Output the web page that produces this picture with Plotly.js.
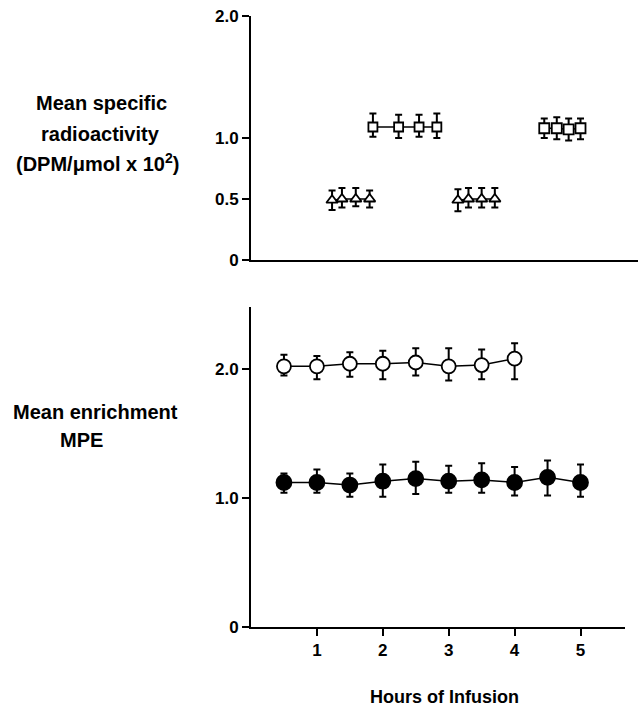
<!DOCTYPE html>
<html>
<head>
<meta charset="utf-8">
<script src="https://cdn.plot.ly/plotly-3.0.1.min.js"></script>
<style>html,body{margin:0;padding:0;background:#fff;}#chart{width:638px;height:707px;}</style>
</head>
<body>
<div id="chart"></div>
<script>
// Top panel: mean specific radioactivity (DPM/umol x 10^2)
const tri1X = [1.23, 1.38, 1.59, 1.80];
const tri1Y = [0.49, 0.50, 0.50, 0.50];
const tri1Up = [0.57, 0.59, 0.59, 0.57];
const tri1Lo = [0.41, 0.43, 0.44, 0.43];

const sq1X = [1.85, 2.24, 2.55, 2.82];
const sq1Y = [1.09, 1.09, 1.09, 1.09];
const sq1Up = [1.20, 1.19, 1.19, 1.20];
const sq1Lo = [1.01, 1.00, 1.01, 1.00];

const tri2X = [3.14, 3.30, 3.50, 3.70];
const tri2Y = [0.49, 0.50, 0.50, 0.50];
const tri2Up = [0.58, 0.59, 0.59, 0.59];
const tri2Lo = [0.40, 0.43, 0.43, 0.43];

const sq2X = [4.45, 4.64, 4.82, 5.00];
const sq2Y = [1.08, 1.08, 1.07, 1.08];
const sq2Up = [1.16, 1.17, 1.16, 1.16];
const sq2Lo = [1.00, 0.99, 0.98, 0.99];

// Bottom panel: mean enrichment MPE
const openX = [0.5, 1, 1.5, 2, 2.5, 3, 3.5, 4];
const openY = [2.02, 2.02, 2.04, 2.04, 2.05, 2.02, 2.03, 2.08];
const openUp = [2.11, 2.10, 2.13, 2.14, 2.16, 2.16, 2.15, 2.20];
const openLo = [1.95, 1.92, 1.94, 1.92, 1.95, 1.91, 1.92, 1.92];

const fillX = [0.5, 1, 1.5, 2, 2.5, 3, 3.5, 4, 4.5, 5];
const fillY = [1.12, 1.12, 1.10, 1.13, 1.15, 1.13, 1.14, 1.12, 1.16, 1.12];
const fillUp = [1.19, 1.22, 1.19, 1.26, 1.28, 1.25, 1.27, 1.24, 1.29, 1.26];
const fillLo = [1.04, 1.04, 1.01, 1.01, 1.03, 1.04, 1.04, 1.02, 1.02, 1.01];

const xTickVals = [1, 2, 3, 4, 5];
const xTickText = ['1', '2', '3', '4', '5'];
const topYTickVals = [0, 0.5, 1.0, 2.0];
const topYTickText = ['0', '0.5', '1.0', '2.0'];
const botYTickVals = [0, 1.0, 2.0];
const botYTickText = ['0', '1.0', '2.0'];

function errs(y, up, lo) {
  return {
    type: 'data', symmetric: false,
    array: up.map((u, i) => +(u - y[i]).toFixed(3)),
    arrayminus: lo.map((l, i) => +(y[i] - l).toFixed(3)),
    color: '#000', thickness: 2, width: 3.5
  };
}

function series(x, y, up, lo, symbol, size, axes, fill) {
  return {
    x: x, y: y, type: 'scatter', mode: 'lines+markers',
    xaxis: axes[0], yaxis: axes[1],
    line: {color: '#000', width: 1.5},
    marker: {symbol: symbol, size: size, color: fill ? '#000' : '#fff',
             line: {color: '#000', width: 1.8}},
    error_y: errs(y, up, lo),
    showlegend: false, hoverinfo: 'skip'
  };
}

const data = [
  series(tri1X, tri1Y, tri1Up, tri1Lo, 'triangle-up', 10, ['x2', 'y2'], false),
  series(sq1X, sq1Y, sq1Up, sq1Lo, 'square', 9, ['x2', 'y2'], false),
  series(tri2X, tri2Y, tri2Up, tri2Lo, 'triangle-up', 10, ['x2', 'y2'], false),
  series(sq2X, sq2Y, sq2Up, sq2Lo, 'square', 10, ['x2', 'y2'], false),
  series(openX, openY, openUp, openLo, 'circle', 14, ['x', 'y'], false),
  series(fillX, fillY, fillUp, fillLo, 'circle', 15, ['x', 'y'], true)
];

const PX_PER_UNIT = 65.9;
const FONT = 'Liberation Sans, Arial, sans-serif';
const tickFont = {family: FONT, size: 17, color: '#000', weight: 'bold'};

const layout = {
  width: 638, height: 707,
  margin: {l: 251, r: 0, t: 16, b: 80},
  paper_bgcolor: '#fff', plot_bgcolor: '#fff',
  showlegend: false,
  xaxis: {
    domain: [0, 374 / 387], range: [0, 374 / PX_PER_UNIT],
    showline: true, linecolor: '#000', linewidth: 2,
    showgrid: false, zeroline: false,
    ticks: 'outside', ticklen: 7, tickwidth: 2, tickcolor: '#000',
    tickvals: xTickVals, ticktext: xTickText, tickfont: tickFont,
    anchor: 'y', fixedrange: true
  },
  yaxis: {
    domain: [0, 320 / 611], range: [0, 2.48],
    showline: true, linecolor: '#000', linewidth: 2,
    showgrid: false, zeroline: false,
    ticks: 'outside', ticklen: 7, tickwidth: 2, tickcolor: '#000',
    tickvals: botYTickVals, ticktext: botYTickText, tickfont: tickFont,
    anchor: 'x', fixedrange: true
  },
  xaxis2: {
    domain: [0, 1], range: [0, 387 / PX_PER_UNIT],
    showline: true, linecolor: '#000', linewidth: 2,
    showgrid: false, zeroline: false, ticks: '', showticklabels: false,
    anchor: 'y2', fixedrange: true
  },
  yaxis2: {
    domain: [367 / 611, 1], range: [0, 2.0],
    showline: true, linecolor: '#000', linewidth: 2,
    showgrid: false, zeroline: false,
    ticks: 'outside', ticklen: 7, tickwidth: 2, tickcolor: '#000',
    tickvals: topYTickVals, ticktext: topYTickText, tickfont: tickFont,
    anchor: 'x2', fixedrange: true
  },
  annotations: []
};

function px2paperX(px) { return (px - 251) / 387; }
function px2paperY(py) { return (627 - py) / 611; }
function label(text, cx, cy, size) {
  return {text: text, xref: 'paper', yref: 'paper', x: px2paperX(cx), y: px2paperY(cy),
          xanchor: 'center', yanchor: 'middle', showarrow: false,
          font: {family: FONT, size: size, color: '#000', weight: 'bold'}};
}
layout.annotations.push(label('Mean specific', 101, 103, 20));
layout.annotations.push(label('radioactivity', 100, 134, 20));
layout.annotations.push(label('(DPM/μmol x 10<sup>2</sup>)', 97, 162, 20));
layout.annotations.push(label('Mean enrichment', 95, 412, 20));
layout.annotations.push(label('MPE', 81, 440, 20));
layout.annotations.push(label('Hours of Infusion', 444, 697, 18));

Plotly.newPlot('chart', data, layout, {displayModeBar: false, staticPlot: true});
</script>
</body>
</html>
